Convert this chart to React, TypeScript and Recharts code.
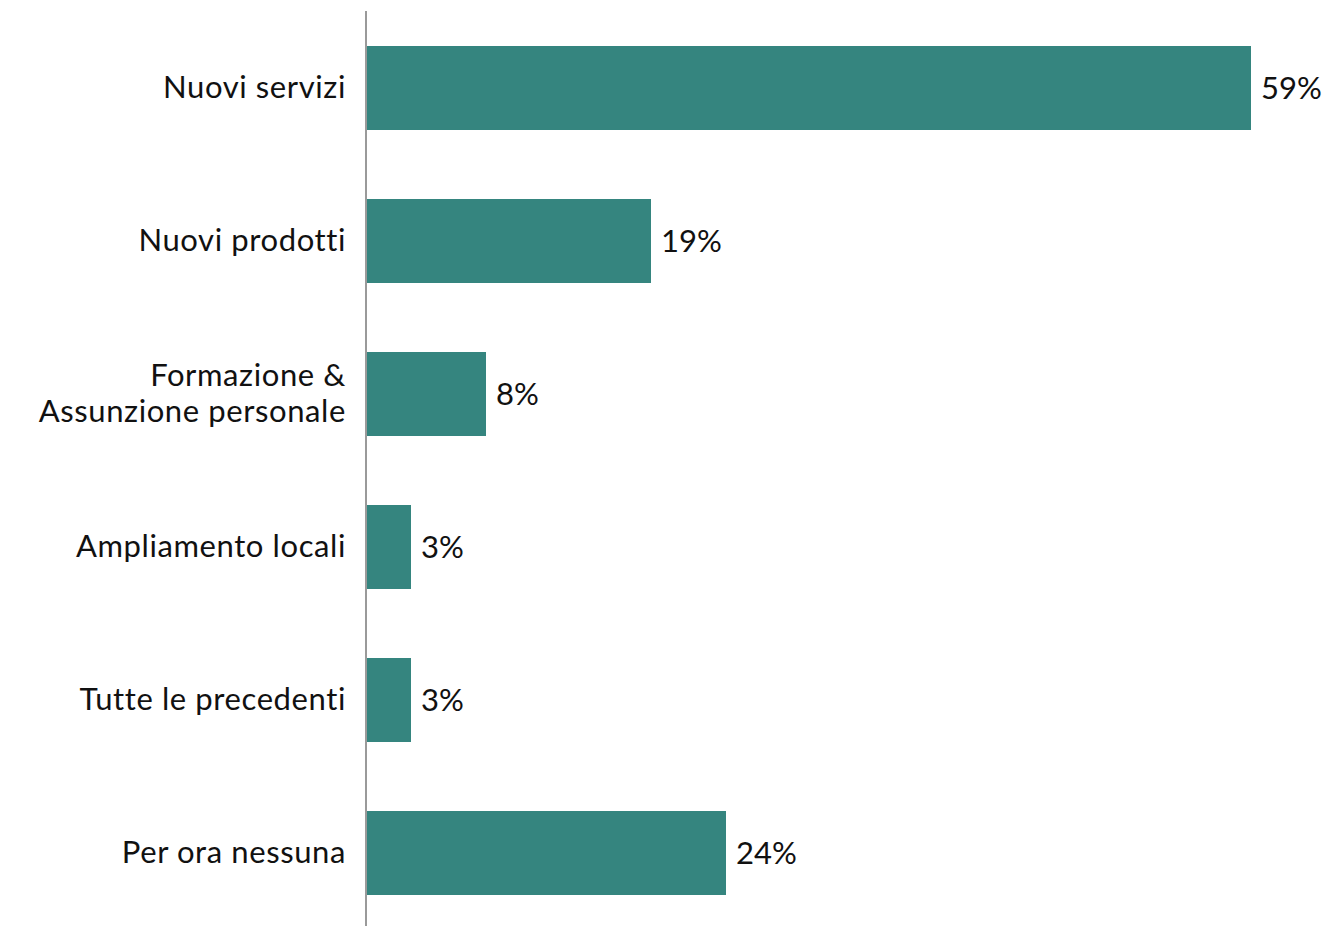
import { BarChart, Bar, XAxis, YAxis, LabelList } from 'recharts';

const categories = [
  'Nuovi servizi',
  'Nuovi prodotti',
  'Formazione &\nAssunzione personale',
  'Ampliamento locali',
  'Tutte le precedenti',
  'Per ora nessuna',
];
const values = [59, 19, 8, 3, 3, 24];

const data = categories.map((name, i) => ({ name, value: values[i] }));

const FONT = 'Lato, "DejaVu Sans", sans-serif';

function CategoryTick(props: any) {
  const { x, y, payload } = props;
  const lines = String(payload.value).split('\n');
  const lineH = 36;
  const start = -((lines.length - 1) * lineH) / 2;
  return (
    <text
      x={x}
      y={y}
      textAnchor="end"
      fontFamily={FONT}
      fontSize={31}
      letterSpacing={0.6}
      fill="#111"
    >
      {lines.map((line, i) => (
        <tspan key={i} x={x} y={y + start + i * lineH} dy="0.35em">
          {line}
        </tspan>
      ))}
    </text>
  );
}

export default function App() {
  return (
    <div style={{ position: 'absolute', left: 0, top: 0, background: '#fff' }}>
      <BarChart
        width={1325}
        height={930}
        data={data}
        layout="vertical"
        margin={{ top: 11, right: 59, bottom: 1, left: 0 }}
        barSize={84}
      >
        <XAxis type="number" domain={[0, 60]} hide />
        <YAxis
          type="category"
          dataKey="name"
          width={366}
          axisLine={{ stroke: '#9a9a9a', strokeWidth: 2 }}
          tickLine={false}
          tickMargin={14}
          tick={<CategoryTick />}
          interval={0}
        />
        <Bar dataKey="value" fill="#35857f" isAnimationActive={false}>
          <LabelList
            dataKey="value"
            position="right"
            offset={10}
            formatter={(v: any) => `${v}%`}
            style={{ fontFamily: FONT, fontSize: 31, fill: '#111' }}
          />
        </Bar>
      </BarChart>
    </div>
  );
}
